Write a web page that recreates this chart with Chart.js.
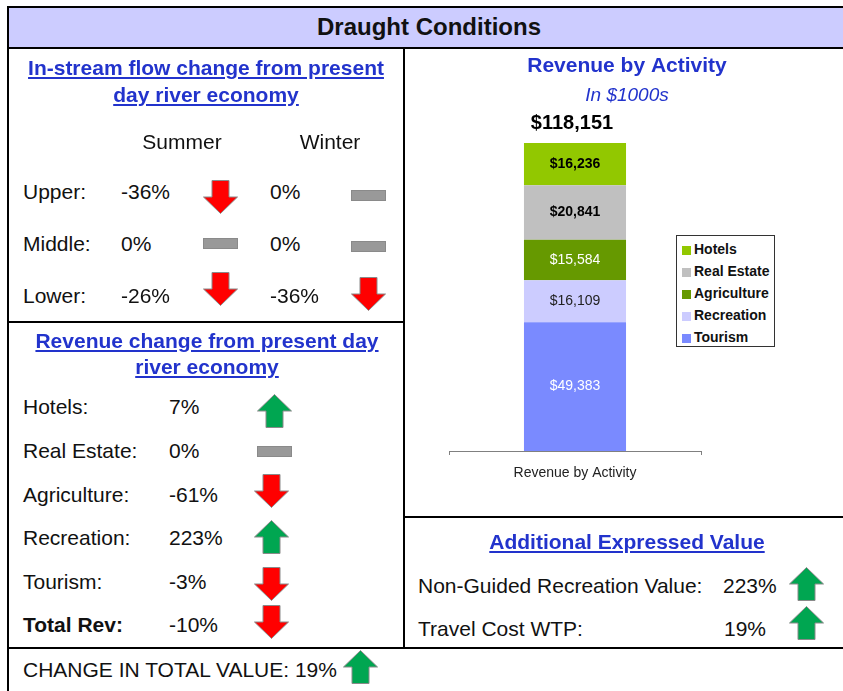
<!DOCTYPE html>
<html>
<head>
<meta charset="utf-8">
<title>Draught Conditions</title>
<script src="https://cdn.jsdelivr.net/npm/chart.js@4.4.1/dist/chart.umd.min.js"></script>
<style>
  body { margin: 0; background: #fff; overflow: hidden; font-family: "Liberation Sans", Arial, sans-serif; color: #111; }
  #page { position: relative; width: 843px; height: 691px; overflow: hidden; }
  .t { position: absolute; white-space: nowrap; font-size: 21px; line-height: 26px; }
  .c { text-align: center; width: 400px; }
  .h { font-weight: bold; color: #2233cc; text-decoration: underline; }
  .ln { position: absolute; background: #000; }
  svg { position: absolute; }
  #bar-title { position: absolute; left: 9px; top: 8px; width: 834px; height: 39px; background: #ccccff; }
  #chartBox { position: absolute; left: 405px; top: 48px; width: 444px; height: 468px; }
  #legend { position: absolute; left: 676px; top: 235px; width: 97px; height: 110px; border: 1px solid #333; background: #fff; padding-top: 2px; box-sizing: border-box; height: 112px; width: 99px; }
  .li { height: 22px; line-height: 22px; font-size: 14px; font-weight: bold; color: #111; white-space: nowrap; padding-left: 5px; }
  .sw { display: inline-block; width: 9px; height: 9px; margin-right: 3px; vertical-align: -1px; }
</style>
</head>
<body>
<div id="page">
  <div id="bar-title"></div>
  <div id="chartBox"><canvas id="revChart" width="444" height="468"></canvas></div>
  <div id="legend"></div>
</div>
<script>
// Données du tableau de bord
const flowReaches = ['Upper:', 'Middle:', 'Lower:'];
const flowSummer = [-36, 0, -26];
const flowWinter = [0, 0, -36];

const revChangeLabels = ['Hotels:', 'Real Estate:', 'Agriculture:', 'Recreation:', 'Tourism:', 'Total Rev:'];
const revChange = [7, 0, -61, 223, -3, -10];

const extraLabels = ['Non-Guided Recreation Value:', 'Travel Cost WTP:'];
const extraValues = [223, 19];
const totalValueChange = 19;

// Données du graphique (en milliers de $)
const categories = ['Revenue by Activity'];
const activities = ['Hotels', 'Real Estate', 'Agriculture', 'Recreation', 'Tourism'];
const revenue = [16236, 20841, 15584, 16109, 49383];
const totalRevenue = 118151;

const activityColors = ['#92c800', '#c0c0c0', '#669900', '#ccccff', '#7a8aff'];
const labelColors = ['#000', '#000', '#fff', '#222', '#fff'];
const labelBold = [true, true, false, false, false];

const F = '"Liberation Sans", Arial, sans-serif';
const BLUE = '#2233cc';
const page = document.getElementById('page');

function addText(str, left, mid, cls, css) {
  const d = document.createElement('div');
  d.className = 't ' + (cls || '');
  d.textContent = str;
  d.style.left = left + 'px';
  d.style.top = (mid - 13) + 'px';
  if (css) Object.assign(d.style, css);
  page.appendChild(d);
  return d;
}

function addCentered(str, center, mid, cls, css) {
  return addText(str, center - 200, mid, 'c ' + (cls || ''), css);
}

function addLine(left, top, width, height) {
  const d = document.createElement('div');
  d.className = 'ln';
  Object.assign(d.style, { left: left + 'px', top: top + 'px', width: width + 'px', height: height + 'px' });
  page.appendChild(d);
}

// Flèche selon le signe de la valeur
function addIcon(value, left, top) {
  const ns = 'http://www.w3.org/2000/svg';
  const svg = document.createElementNS(ns, 'svg');
  let shape;
  if (value === 0) {
    svg.setAttribute('width', 36); svg.setAttribute('height', 12);
    shape = document.createElementNS(ns, 'rect');
    shape.setAttribute('x', 0.5); shape.setAttribute('y', 0.5);
    shape.setAttribute('width', 34); shape.setAttribute('height', 10);
    shape.setAttribute('fill', '#999999');
  } else {
    svg.setAttribute('width', 36); svg.setAttribute('height', 34);
    shape = document.createElementNS(ns, 'polygon');
    const pts = value < 0
      ? '9,0.5 26,0.5 26,17 34.5,17 17.5,33.5 0.5,17 9,17'
      : '9,33.5 26,33.5 26,17 34.5,17 17.5,0.5 0.5,17 9,17';
    shape.setAttribute('points', pts);
    shape.setAttribute('fill', value < 0 ? '#ff0000' : '#00a651');
  }
  shape.setAttribute('stroke', '#8a8a8a');
  shape.setAttribute('stroke-width', 1);
  svg.appendChild(shape);
  svg.style.left = left + 'px';
  svg.style.top = top + 'px';
  page.appendChild(svg);
}

// Cadres
addLine(7, 6, 836, 2);
addLine(7, 47, 836, 2);
addLine(7, 6, 2, 685);
addLine(403, 47, 2, 601);
addLine(7, 321, 398, 2);
addLine(403, 516, 440, 2);
addLine(7, 647, 836, 2);

addCentered('Draught Conditions', 429, 27, '', { fontWeight: 'bold', fontSize: '24px' });

// Débit en rivière
addCentered('In-stream flow change from present', 206, 68, 'h');
addCentered('day river economy', 206, 95, 'h');
addCentered('Summer', 182, 142);
addCentered('Winter', 330, 142);
const flowY = [192, 244, 296];
const summerIconTop = [180, 238, 272];
const winterIconTop = [190, 241, 277];
flowReaches.forEach((r, i) => {
  addText(r, 23, flowY[i]);
  addText(flowSummer[i] + '%', 121, flowY[i]);
  addText(flowWinter[i] + '%', 270, flowY[i]);
  addIcon(flowSummer[i], 203, summerIconTop[i]);
  addIcon(flowWinter[i], 351, winterIconTop[i]);
});

// Variation des revenus
addCentered('Revenue change from present day', 207, 341, 'h');
addCentered('river economy', 207, 367, 'h');
const revY = [407, 451, 495, 538, 582, 625];
const revIconLeft = [257, 257, 254, 254, 254, 254];
const revIconTop = [394, 446, 474, 520, 567, 605];
revChangeLabels.forEach((r, i) => {
  const last = i === revChangeLabels.length - 1;
  addText(r, 23, revY[i], '', last ? { fontWeight: 'bold' } : null);
  addText(revChange[i] + '%', 169, revY[i]);
  addIcon(revChange[i], revIconLeft[i], revIconTop[i]);
});

addText('CHANGE IN TOTAL VALUE: ' + totalValueChange + '%', 23, 670);
addIcon(totalValueChange, 343, 650);

// Valeur exprimée
addCentered('Additional Expressed Value', 627, 542, 'h');
const extraY = [586, 629];
const extraValLeft = [723, 724];
const extraIconTop = [567, 606];
extraLabels.forEach((r, i) => {
  addText(r, 418, extraY[i]);
  addText(extraValues[i] + '%', extraValLeft[i], extraY[i]);
  addIcon(extraValues[i], 789, extraIconTop[i]);
});

// Légende HTML
const legend = document.getElementById('legend');
activities.forEach((a, i) => {
  const row = document.createElement('div');
  row.className = 'li';
  row.innerHTML = '<span class="sw" style="background:' + activityColors[i] + '"></span>';
  row.appendChild(document.createTextNode(a));
  legend.appendChild(row);
});

function money(v) {
  return '$' + String(v).replace(/\B(?=(\d{3})+(?!\d))/g, ',');
}

const labelPlugin = {
  id: 'segmentLabels',
  afterDatasetsDraw(chart) {
    const ctx = chart.ctx;
    ctx.save();
    ctx.textAlign = 'center';
    ctx.textBaseline = 'middle';
    chart.data.datasets.forEach((ds, k) => {
      const i = stackOrder[k];
      const p = chart.getDatasetMeta(k).data[0].getCenterPoint();
      ctx.font = (labelBold[i] ? 'bold ' : '') + '14px ' + F;
      ctx.fillStyle = labelColors[i];
      ctx.fillText(money(ds.data[0]), p.x, p.y);
    });
    const bar = chart.getDatasetMeta(0).data[0];
    ctx.font = 'bold 20px ' + F;
    ctx.fillStyle = '#000';
    ctx.fillText(money(totalRevenue), bar.x - 3, chart.scales.y.getPixelForValue(totalRevenue) - 20);
    ctx.restore();
  }
};

// Tourism en bas de la pile
const stackOrder = [4, 3, 2, 1, 0];

Chart.defaults.font.family = F;

const revCtx = document.getElementById('revChart').getContext('2d');
const revChart = new Chart(revCtx, {
  type: 'bar',
  data: {
    labels: categories,
    datasets: stackOrder.map(i => ({
      label: activities[i],
      data: [revenue[i]],
      backgroundColor: activityColors[i],
      borderWidth: 0
    }))
  },
  options: {
    responsive: false,
    animation: false,
    devicePixelRatio: 1,
    barPercentage: 0.405,
    categoryPercentage: 1,
    layout: { padding: 0 },
    plugins: {
      legend: { display: false },
      tooltip: { enabled: false },
      title: {
        display: true,
        text: 'Revenue by Activity',
        color: BLUE,
        font: { size: 21, weight: 'bold' },
        padding: { top: 6, bottom: 4 }
      },
      subtitle: {
        display: true,
        text: 'In $1000s',
        color: BLUE,
        font: { size: 19, style: 'italic' },
        padding: { top: 1, bottom: 36 }
      }
    },
    scales: {
      x: {
        stacked: true,
        grid: { display: true, drawOnChartArea: false, drawTicks: true, tickLength: 4, color: '#808080', offset: true },
        border: { display: true, color: '#808080', width: 1 },
        ticks: { color: '#222', font: { size: 14 }, padding: 10 },
        afterFit: s => { s.height = 65; }
      },
      y: {
        stacked: true,
        min: 0,
        max: totalRevenue,
        grid: { display: false },
        border: { display: false },
        ticks: { display: false },
        afterFit: s => { s.width = 44; }
      },
      y2: {
        position: 'right',
        grid: { display: false },
        border: { display: false },
        ticks: { display: false },
        afterFit: s => { s.width = 148; }
      }
    }
  },
  plugins: [labelPlugin]
});
</script>
</body>
</html>
